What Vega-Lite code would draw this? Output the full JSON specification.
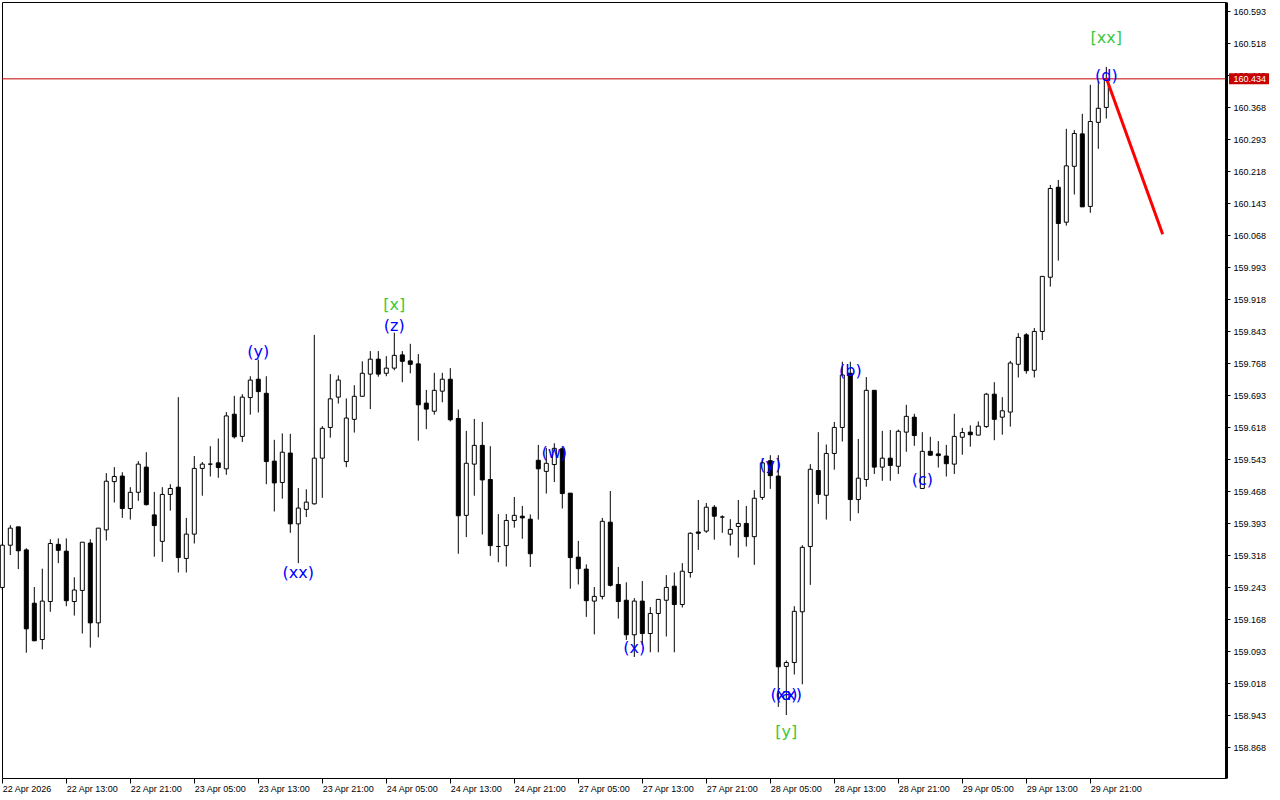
{
  "$schema": "https://vega.github.io/schema/vega-lite/v6.json",
  "width": 1224,
  "height": 776,
  "autosize": {"type": "none"},
  "padding": {"left": 2, "top": 2, "right": 54, "bottom": 22},
  "background": "white",
  "config": {
    "view": {"stroke": "black", "strokeWidth": 1},
    "axis": {"labelFont": "Liberation Sans", "labelFontSize": 9, "labelColor": "black", "tickColor": "black", "grid": false, "labelOverlap": false, "labelFlush": false}
  },
  "resolve": {"axis": {"x": "independent", "y": "independent"}},
  "datasets": {
    "candles": [
      {"k":0,"o":159.242,"h":159.345,"l":159.236,"c":159.341},
      {"k":1,"o":159.341,"h":159.388,"l":159.318,"c":159.381},
      {"k":2,"o":159.384,"h":159.384,"l":159.285,"c":159.328},
      {"k":3,"o":159.330,"h":159.334,"l":159.089,"c":159.145},
      {"k":4,"o":159.205,"h":159.243,"l":159.116,"c":159.117},
      {"k":5,"o":159.120,"h":159.286,"l":159.097,"c":159.210},
      {"k":6,"o":159.209,"h":159.355,"l":159.185,"c":159.345},
      {"k":7,"o":159.343,"h":159.357,"l":159.299,"c":159.329},
      {"k":8,"o":159.327,"h":159.357,"l":159.198,"c":159.211},
      {"k":9,"o":159.209,"h":159.266,"l":159.176,"c":159.236},
      {"k":10,"o":159.235,"h":159.348,"l":159.134,"c":159.348},
      {"k":11,"o":159.346,"h":159.355,"l":159.101,"c":159.159},
      {"k":12,"o":159.159,"h":159.381,"l":159.125,"c":159.381},
      {"k":13,"o":159.377,"h":159.510,"l":159.352,"c":159.491},
      {"k":14,"o":159.490,"h":159.524,"l":159.441,"c":159.502},
      {"k":15,"o":159.503,"h":159.512,"l":159.405,"c":159.427},
      {"k":16,"o":159.427,"h":159.477,"l":159.401,"c":159.465},
      {"k":17,"o":159.465,"h":159.538,"l":159.445,"c":159.531},
      {"k":18,"o":159.524,"h":159.559,"l":159.434,"c":159.436},
      {"k":19,"o":159.412,"h":159.466,"l":159.314,"c":159.387},
      {"k":20,"o":159.350,"h":159.477,"l":159.302,"c":159.460},
      {"k":21,"o":159.460,"h":159.484,"l":159.422,"c":159.474},
      {"k":22,"o":159.477,"h":159.688,"l":159.277,"c":159.312},
      {"k":23,"o":159.310,"h":159.405,"l":159.277,"c":159.367},
      {"k":24,"o":159.367,"h":159.550,"l":159.345,"c":159.521},
      {"k":25,"o":159.521,"h":159.536,"l":159.457,"c":159.531},
      {"k":26,"o":159.531,"h":159.573,"l":159.502,"c":159.531},
      {"k":27,"o":159.534,"h":159.591,"l":159.499,"c":159.523},
      {"k":28,"o":159.520,"h":159.653,"l":159.506,"c":159.644},
      {"k":29,"o":159.648,"h":159.691,"l":159.591,"c":159.595},
      {"k":30,"o":159.596,"h":159.695,"l":159.583,"c":159.688},
      {"k":31,"o":159.687,"h":159.737,"l":159.647,"c":159.728},
      {"k":32,"o":159.730,"h":159.776,"l":159.652,"c":159.701},
      {"k":33,"o":159.697,"h":159.737,"l":159.484,"c":159.537},
      {"k":34,"o":159.538,"h":159.588,"l":159.420,"c":159.487},
      {"k":35,"o":159.488,"h":159.603,"l":159.450,"c":159.559},
      {"k":36,"o":159.557,"h":159.602,"l":159.370,"c":159.391},
      {"k":37,"o":159.391,"h":159.475,"l":159.299,"c":159.428},
      {"k":38,"o":159.425,"h":159.472,"l":159.407,"c":159.442},
      {"k":39,"o":159.438,"h":159.834,"l":159.436,"c":159.545},
      {"k":40,"o":159.545,"h":159.620,"l":159.452,"c":159.615},
      {"k":41,"o":159.617,"h":159.742,"l":159.593,"c":159.684},
      {"k":42,"o":159.688,"h":159.739,"l":159.673,"c":159.728},
      {"k":43,"o":159.537,"h":159.685,"l":159.524,"c":159.639},
      {"k":44,"o":159.636,"h":159.716,"l":159.605,"c":159.690},
      {"k":45,"o":159.690,"h":159.772,"l":159.690,"c":159.744},
      {"k":46,"o":159.742,"h":159.796,"l":159.660,"c":159.777},
      {"k":47,"o":159.777,"h":159.796,"l":159.736,"c":159.742},
      {"k":48,"o":159.744,"h":159.784,"l":159.737,"c":159.756},
      {"k":49,"o":159.756,"h":159.839,"l":159.751,"c":159.786},
      {"k":50,"o":159.787,"h":159.796,"l":159.723,"c":159.772},
      {"k":51,"o":159.773,"h":159.813,"l":159.744,"c":159.765},
      {"k":52,"o":159.766,"h":159.789,"l":159.586,"c":159.670},
      {"k":53,"o":159.674,"h":159.705,"l":159.613,"c":159.660},
      {"k":54,"o":159.655,"h":159.745,"l":159.647,"c":159.704},
      {"k":55,"o":159.702,"h":159.745,"l":159.676,"c":159.730},
      {"k":56,"o":159.730,"h":159.756,"l":159.631,"c":159.635},
      {"k":57,"o":159.638,"h":159.659,"l":159.321,"c":159.410},
      {"k":58,"o":159.411,"h":159.609,"l":159.360,"c":159.533},
      {"k":59,"o":159.531,"h":159.637,"l":159.457,"c":159.575},
      {"k":60,"o":159.575,"h":159.630,"l":159.366,"c":159.494},
      {"k":61,"o":159.495,"h":159.573,"l":159.316,"c":159.340},
      {"k":62,"o":159.338,"h":159.414,"l":159.301,"c":159.338},
      {"k":63,"o":159.340,"h":159.414,"l":159.291,"c":159.399},
      {"k":64,"o":159.399,"h":159.454,"l":159.382,"c":159.411},
      {"k":65,"o":159.409,"h":159.433,"l":159.356,"c":159.405},
      {"k":66,"o":159.402,"h":159.413,"l":159.290,"c":159.321},
      {"k":67,"o":159.540,"h":159.576,"l":159.401,"c":159.520},
      {"k":68,"o":159.514,"h":159.569,"l":159.462,"c":159.533},
      {"k":69,"o":159.530,"h":159.580,"l":159.489,"c":159.568},
      {"k":70,"o":159.567,"h":159.573,"l":159.427,"c":159.462},
      {"k":71,"o":159.463,"h":159.463,"l":159.239,"c":159.312},
      {"k":72,"o":159.313,"h":159.351,"l":159.249,"c":159.286},
      {"k":73,"o":159.285,"h":159.296,"l":159.173,"c":159.211},
      {"k":74,"o":159.210,"h":159.243,"l":159.132,"c":159.221},
      {"k":75,"o":159.221,"h":159.405,"l":159.214,"c":159.397},
      {"k":76,"o":159.395,"h":159.468,"l":159.244,"c":159.247},
      {"k":77,"o":159.249,"h":159.290,"l":159.169,"c":159.209},
      {"k":78,"o":159.212,"h":159.254,"l":159.119,"c":159.131},
      {"k":79,"o":159.131,"h":159.217,"l":159.079,"c":159.210},
      {"k":80,"o":159.210,"h":159.257,"l":159.107,"c":159.134},
      {"k":81,"o":159.134,"h":159.196,"l":159.090,"c":159.181},
      {"k":82,"o":159.181,"h":159.215,"l":159.090,"c":159.214},
      {"k":83,"o":159.212,"h":159.271,"l":159.127,"c":159.242},
      {"k":84,"o":159.245,"h":159.277,"l":159.090,"c":159.202},
      {"k":85,"o":159.202,"h":159.299,"l":159.195,"c":159.280},
      {"k":86,"o":159.277,"h":159.371,"l":159.265,"c":159.369},
      {"k":87,"o":159.372,"h":159.447,"l":159.330,"c":159.369},
      {"k":88,"o":159.374,"h":159.440,"l":159.370,"c":159.430},
      {"k":89,"o":159.430,"h":159.435,"l":159.354,"c":159.409},
      {"k":90,"o":159.407,"h":159.411,"l":159.370,"c":159.407},
      {"k":91,"o":159.367,"h":159.402,"l":159.340,"c":159.378},
      {"k":92,"o":159.385,"h":159.447,"l":159.312,"c":159.392},
      {"k":93,"o":159.392,"h":159.433,"l":159.338,"c":159.361},
      {"k":94,"o":159.361,"h":159.470,"l":159.295,"c":159.451},
      {"k":95,"o":159.453,"h":159.545,"l":159.447,"c":159.534},
      {"k":96,"o":159.539,"h":159.552,"l":159.473,"c":159.504},
      {"k":97,"o":159.503,"h":159.552,"l":158.962,"c":159.056},
      {"k":98,"o":159.057,"h":159.071,"l":158.943,"c":159.066},
      {"k":99,"o":159.066,"h":159.198,"l":159.038,"c":159.186},
      {"k":100,"o":159.185,"h":159.341,"l":159.015,"c":159.336},
      {"k":101,"o":159.338,"h":159.531,"l":159.248,"c":159.519},
      {"k":102,"o":159.516,"h":159.606,"l":159.438,"c":159.460},
      {"k":103,"o":159.458,"h":159.577,"l":159.401,"c":159.556},
      {"k":104,"o":159.556,"h":159.630,"l":159.518,"c":159.617},
      {"k":105,"o":159.617,"h":159.771,"l":159.584,"c":159.740},
      {"k":106,"o":159.744,"h":159.771,"l":159.398,"c":159.448},
      {"k":107,"o":159.448,"h":159.590,"l":159.416,"c":159.498},
      {"k":108,"o":159.495,"h":159.735,"l":159.478,"c":159.704},
      {"k":109,"o":159.704,"h":159.704,"l":159.508,"c":159.524},
      {"k":110,"o":159.524,"h":159.609,"l":159.492,"c":159.545},
      {"k":111,"o":159.545,"h":159.611,"l":159.492,"c":159.528},
      {"k":112,"o":159.526,"h":159.612,"l":159.508,"c":159.608},
      {"k":113,"o":159.606,"h":159.670,"l":159.560,"c":159.643},
      {"k":114,"o":159.641,"h":159.649,"l":159.574,"c":159.598},
      {"k":115,"o":159.474,"h":159.606,"l":159.474,"c":159.561},
      {"k":116,"o":159.561,"h":159.595,"l":159.551,"c":159.552},
      {"k":117,"o":159.555,"h":159.585,"l":159.523,"c":159.551},
      {"k":118,"o":159.550,"h":159.576,"l":159.502,"c":159.532},
      {"k":119,"o":159.531,"h":159.649,"l":159.508,"c":159.596},
      {"k":120,"o":159.594,"h":159.616,"l":159.553,"c":159.605},
      {"k":121,"o":159.606,"h":159.622,"l":159.572,"c":159.600},
      {"k":122,"o":159.599,"h":159.631,"l":159.599,"c":159.620},
      {"k":123,"o":159.619,"h":159.698,"l":159.616,"c":159.695},
      {"k":124,"o":159.695,"h":159.723,"l":159.587,"c":159.636},
      {"k":125,"o":159.641,"h":159.688,"l":159.600,"c":159.656},
      {"k":126,"o":159.653,"h":159.773,"l":159.619,"c":159.768},
      {"k":127,"o":159.765,"h":159.838,"l":159.734,"c":159.828},
      {"k":128,"o":159.834,"h":159.838,"l":159.743,"c":159.750},
      {"k":129,"o":159.751,"h":159.850,"l":159.734,"c":159.842},
      {"k":130,"o":159.842,"h":159.972,"l":159.822,"c":159.971},
      {"k":131,"o":159.969,"h":160.185,"l":159.947,"c":160.177},
      {"k":132,"o":160.180,"h":160.197,"l":160.008,"c":160.095},
      {"k":133,"o":160.098,"h":160.317,"l":160.090,"c":160.230},
      {"k":134,"o":160.229,"h":160.314,"l":160.163,"c":160.306},
      {"k":135,"o":160.305,"h":160.352,"l":160.134,"c":160.134},
      {"k":136,"o":160.135,"h":160.420,"l":160.120,"c":160.334},
      {"k":137,"o":160.332,"h":160.429,"l":160.270,"c":160.365},
      {"k":138,"o":160.367,"h":160.462,"l":160.341,"c":160.434}
    ],
    "labels": [
      {"k":32,"p":159.794,"text":"(y)","kind":"wave"},
      {"k":37,"p":159.275,"text":"(xx)","kind":"wave"},
      {"k":49,"p":159.855,"text":"(z)","kind":"wave"},
      {"k":49,"p":159.904,"text":"[x]","kind":"degree"},
      {"k":69,"p":159.557,"text":"(w)","kind":"wave"},
      {"k":79,"p":159.100,"text":"(x)","kind":"wave"},
      {"k":96,"p":159.529,"text":"(y)","kind":"wave"},
      {"k":98,"p":158.991,"text":"(xx)","kind":"wave"},
      {"k":98,"p":158.991,"text":"(a)","kind":"wave"},
      {"k":98,"p":158.903,"text":"[y]","kind":"degree"},
      {"k":106,"p":159.750,"text":"(b)","kind":"wave"},
      {"k":115,"p":159.494,"text":"(c)","kind":"wave"},
      {"k":138,"p":160.440,"text":"(d)","kind":"wave"},
      {"k":138,"p":160.529,"text":"[xx]","kind":"degree"}
    ],
    "projection": [
      {"k":138,"p":160.436},
      {"k":145.05,"p":160.070}
    ],
    "price": [
      {"p":160.434}
    ]
  },
  "layer": [
    {
      "data": {"name": "candles"},
      "mark": {"type": "rule", "color": "black", "strokeWidth": 1},
      "encoding": {
        "x": {"field": "k", "type": "quantitative", "title": null,
              "scale": {"domain": [-0.0375, 152.9625], "nice": false, "zero": false, "padding": 0},
              "axis": {"orient": "bottom", "values": [0,8,16,24,32,40,48,56,64,72,80,88,96,104,112,120,128,136],
                       "labelExpr": "['22 Apr 2026','22 Apr 13:00','22 Apr 21:00','23 Apr 05:00','23 Apr 13:00','23 Apr 21:00','24 Apr 05:00','24 Apr 13:00','24 Apr 21:00','27 Apr 05:00','27 Apr 13:00','27 Apr 21:00','28 Apr 05:00','28 Apr 13:00','28 Apr 21:00','29 Apr 05:00','29 Apr 13:00','29 Apr 21:00'][round(datum.value/8)]",
                       "labelAlign": "left", "labelBaseline": "top", "labelPadding": 1,
                       "tickSize": 5, "domain": false, "labelFlush": false, "labelOverlap": false}},
        "y": {"field": "l", "type": "quantitative", "title": null,
              "scale": {"domain": [158.7954, 160.6141], "nice": false, "zero": false},
              "axis": {"orient": "right", "values": [158.868,158.943,159.018,159.093,159.168,159.243,159.318,159.393,159.468,159.543,159.618,159.693,159.768,159.843,159.918,159.993,160.068,160.143,160.218,160.293,160.368,160.443,160.518,160.593],
                       "format": ".3f", "tickSize": 4, "labelPadding": 3, "domainColor": "black", "domainWidth": 3,
                       "labelFlush": false, "labelOverlap": false}},
        "y2": {"field": "h"}
      }
    },
    {
      "data": {"name": "candles"},
      "mark": {"type": "bar", "width": 4, "stroke": "black", "strokeWidth": 1},
      "encoding": {
        "x": {"field": "k", "type": "quantitative", "axis": null},
        "y": {"field": "o", "type": "quantitative", "axis": null},
        "y2": {"field": "c"},
        "fill": {"condition": {"test": "datum.c < datum.o", "value": "black"}, "value": "white"}
      }
    },
    {
      "data": {"name": "price"},
      "mark": {"type": "rule", "color": "#C80000", "strokeWidth": 1},
      "encoding": {
        "y": {"field": "p", "type": "quantitative", "axis": null}
      }
    },
    {
      "data": {"name": "projection"},
      "mark": {"type": "line", "color": "#FF0000", "strokeWidth": 3},
      "encoding": {
        "x": {"field": "k", "type": "quantitative", "axis": null},
        "y": {"field": "p", "type": "quantitative", "axis": null}
      }
    },
    {
      "data": {"name": "labels"},
      "mark": {"type": "text", "font": "DejaVu Sans", "fontSize": 16, "align": "center", "baseline": "middle"},
      "encoding": {
        "x": {"field": "k", "type": "quantitative", "axis": null},
        "y": {"field": "p", "type": "quantitative", "axis": null},
        "text": {"field": "text"},
        "color": {"field": "kind", "type": "nominal", "legend": null, "scale": {"domain": ["wave", "degree"], "range": ["#0000FF", "#3CC83C"]}}
      }
    },
    {
      "data": {"name": "price"},
      "mark": {"type": "rule", "color": "#C80000", "strokeWidth": 11, "strokeCap": "butt", "xOffset": 3, "x2Offset": 43, "clip": false},
      "encoding": {
        "x": {"datum": 152.9625, "type": "quantitative", "axis": null},
        "x2": {"datum": 152.9625},
        "y": {"field": "p", "type": "quantitative", "axis": null}
      }
    },
    {
      "data": {"name": "price"},
      "mark": {"type": "text", "font": "Liberation Sans", "fontSize": 9, "align": "left", "baseline": "middle", "dx": 7.5, "color": "white", "clip": false},
      "encoding": {
        "x": {"datum": 152.9625, "type": "quantitative", "axis": null},
        "y": {"field": "p", "type": "quantitative", "axis": null},
        "text": {"field": "p", "format": ".3f"}
      }
    }
  ]
}
